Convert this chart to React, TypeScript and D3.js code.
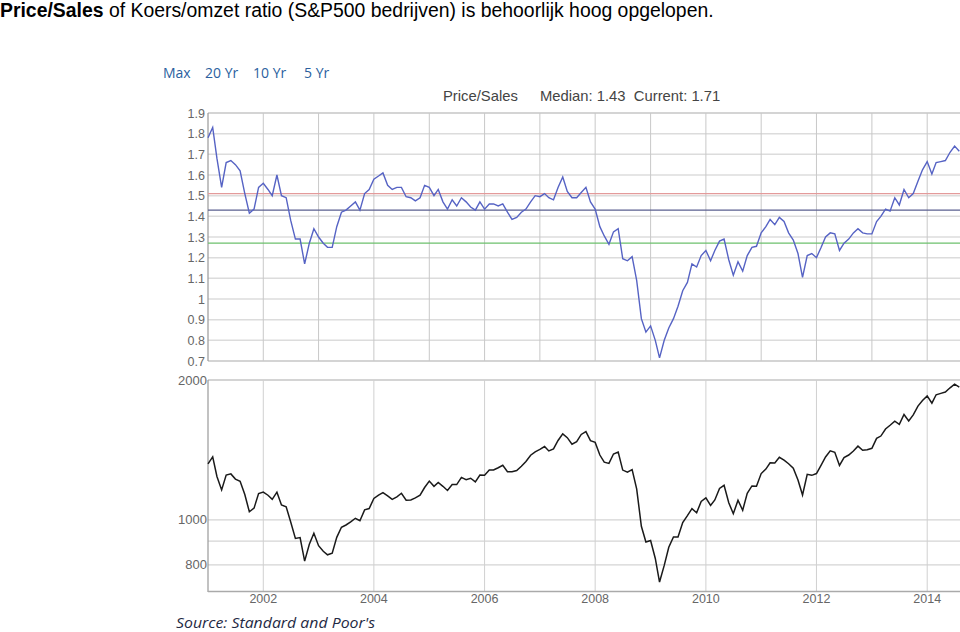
import React from "react";
import * as d3 from "d3";

// Month-end values, Dec 2000 .. Jul 2014
const startYear = 2000;
const startMonth = 11; // December (0-based)

const priceSales: number[] = [
  1.78,
  1.83, 1.68, 1.54, 1.66, 1.67, 1.65, 1.62, 1.51, 1.415, 1.435, 1.54, 1.56,
  1.53, 1.5, 1.6, 1.5, 1.49, 1.38, 1.29, 1.29, 1.17, 1.27, 1.34, 1.3,
  1.27, 1.25, 1.25, 1.35, 1.42, 1.43, 1.45, 1.47, 1.43, 1.51, 1.53, 1.58,
  1.595, 1.61, 1.55, 1.53, 1.54, 1.54, 1.495, 1.49, 1.475, 1.49, 1.55, 1.54,
  1.5, 1.53, 1.47, 1.435, 1.48, 1.45, 1.49, 1.47, 1.445, 1.43, 1.47, 1.435,
  1.46, 1.46, 1.45, 1.46, 1.42, 1.385, 1.395, 1.42, 1.435, 1.47, 1.5, 1.495,
  1.51, 1.49, 1.48, 1.54, 1.59, 1.52, 1.49, 1.49, 1.515, 1.54, 1.47, 1.435,
  1.35, 1.305, 1.265, 1.325, 1.34, 1.195, 1.185, 1.205, 1.09, 0.905, 0.84, 0.87,
  0.8, 0.715, 0.8, 0.86, 0.905, 0.965, 1.04, 1.08, 1.17, 1.155, 1.21, 1.235,
  1.185, 1.235, 1.28, 1.29, 1.19, 1.115, 1.18, 1.135, 1.21, 1.25, 1.255, 1.32,
  1.35, 1.385, 1.36, 1.395, 1.375, 1.32, 1.285, 1.22, 1.105, 1.21, 1.22, 1.2,
  1.25, 1.3, 1.32, 1.315, 1.235, 1.27, 1.29, 1.32, 1.34, 1.32, 1.315, 1.315,
  1.375, 1.4, 1.435, 1.425, 1.49, 1.455, 1.53, 1.49, 1.51, 1.57, 1.625, 1.665,
  1.605, 1.66, 1.665, 1.67, 1.71, 1.74, 1.715,
];

const spx: number[] = [
  1320,
  1366, 1240, 1160, 1249, 1256, 1224, 1211, 1134, 1041, 1060, 1139, 1148,
  1130, 1107, 1147, 1077, 1067, 990, 912, 916, 815, 886, 936, 880,
  856, 841, 848, 917, 964, 975, 990, 1008, 996, 1051, 1058, 1112,
  1131, 1145, 1126, 1107, 1121, 1141, 1102, 1104, 1115, 1130, 1174, 1212,
  1181, 1204, 1181, 1157, 1192, 1191, 1234, 1220, 1229, 1207, 1249, 1248,
  1280, 1281, 1295, 1311, 1270, 1270, 1277, 1304, 1336, 1378, 1401, 1418,
  1438, 1407, 1421, 1482, 1531, 1503, 1455, 1474, 1527, 1549, 1481, 1468,
  1379, 1331, 1323, 1386, 1400, 1280, 1267, 1283, 1166, 969, 896, 903,
  826, 735, 798, 873, 919, 919, 987, 1021, 1057, 1036, 1096, 1115,
  1074, 1104, 1169, 1187, 1089, 1031, 1102, 1049, 1141, 1183, 1181, 1258,
  1286, 1327, 1326, 1364, 1345, 1321, 1292, 1219, 1131, 1253, 1247, 1258,
  1312, 1366, 1408, 1398, 1310, 1362, 1379, 1407, 1441, 1412, 1416, 1426,
  1498, 1515, 1569, 1598, 1631, 1606, 1686, 1633, 1682, 1757, 1806, 1848,
  1783, 1859, 1872, 1884, 1924, 1960, 1931,
];

const psTicks = [0.7, 0.8, 0.9, 1.0, 1.1, 1.2, 1.3, 1.4, 1.5, 1.6, 1.7, 1.8, 1.9];
const spxGrid = [800, 900, 1000, 2000];
const spxLabels = [800, 1000, 2000];
const yearTicks = [2002, 2004, 2006, 2008, 2010, 2012, 2014];
const yearGrid = [2002, 2003, 2004, 2005, 2006, 2007, 2008, 2009, 2010, 2011, 2012, 2013, 2014];
const refLines = [
  { value: 1.51, color: "#e39a9a" },
  { value: 1.43, color: "#5a5f8f" },
  { value: 1.27, color: "#6cc06c" },
];
const rangeButtons = ["Max", "20 Yr", "10 Yr", "5 Yr"];
const median = 1.43;
const current = 1.71;

// month-end date for index i (plotted at the first day of following month)
const dateAt = (i: number) => new Date(startYear, startMonth + i + 1, 1);

export default function App() {
  const left = 208;
  const right = 959.3;
  const x = d3
    .scaleTime()
    .domain([new Date(2001, 0, 1), new Date(2014, 7, 1)])
    .range([left, right]);

  const yTop = d3.scaleLinear().domain([0.7, 1.9]).range([361, 113]);
  const yBot = d3.scaleLog().domain([703, 2000]).range([591, 380]);

  const psLine = d3
    .line<number>()
    .x((_, i) => x(dateAt(i)))
    .y((d) => yTop(d));
  const spxLine = d3
    .line<number>()
    .x((_, i) => x(dateAt(i)))
    .y((d) => yBot(d));

  const fmt = (v: number) => String(+v.toFixed(1));
  const btnX = [163, 205, 253, 304];
  const plotRight = 960;

  return (
    <svg
      width={960}
      height={632}
      style={{ position: "absolute", left: 0, top: 0, background: "#fff" }}
      fontFamily="'Liberation Sans', Arial, sans-serif"
    >
      <rect x={0} y={0} width={960} height={632} fill="#fff" />
      <text x={0} y={16.5} fontSize={19.4} fill="#000">
        <tspan fontWeight="bold">Price/Sales</tspan>
        <tspan> of Koers/omzet ratio (S&amp;P500 bedrijven) is behoorlijk hoog opgelopen.</tspan>
      </text>

      {rangeButtons.map((b, i) => (
        <text
          key={b}
          x={btnX[i]}
          y={78}
          fontSize={14}
          fill="#2b5f9e"
          fontFamily="'Open Sans', sans-serif"
        >
          {b}
        </text>
      ))}

      <text x={443} y={101} fontSize={14.8} fill="#444">
        Price/Sales
      </text>
      <text x={540} y={101} fontSize={14.8} fill="#444">
        Median: {median.toFixed(2)}{"\u00a0\u00a0"}Current: {current.toFixed(2)}
      </text>

      {/* top chart grid */}
      {psTicks.map((t) => (
        <line
          key={"h" + t}
          x1={left}
          x2={plotRight}
          y1={yTop(t)}
          y2={yTop(t)}
          stroke={t === 1.9 || t === 0.7 ? "#aaa" : "#dcdcdc"}
          strokeWidth={t === 0.7 || t === 1.9 ? 1.2 : 1.5}
        />
      ))}
      {yearGrid.map((yr) => (
        <line
          key={"vt" + yr}
          x1={x(new Date(yr, 0, 1))}
          x2={x(new Date(yr, 0, 1))}
          y1={113}
          y2={361}
          stroke="#c8c8c8"
          strokeWidth={1}
        />
      ))}
      <line x1={left} x2={left} y1={113} y2={361} stroke="#999" strokeWidth={1.2} />
      {psTicks.map((t) => (
        <text
          key={"lt" + t}
          x={205}
          y={yTop(t) + 4.5}
          fontSize={12.5}
          fill="#666"
          textAnchor="end"
        >
          {fmt(t)}
        </text>
      ))}
      {refLines.map((r) => (
        <line
          key={"r" + r.value}
          x1={left}
          x2={plotRight}
          y1={yTop(r.value)}
          y2={yTop(r.value)}
          stroke={r.color}
          strokeWidth={1.2}
        />
      ))}
      <path d={psLine(priceSales) || ""} fill="none" stroke="#5663c4" strokeWidth={1.4} />

      {/* bottom chart */}
      {spxGrid.map((t) => (
        <line
          key={"bh" + t}
          x1={left}
          x2={plotRight}
          y1={yBot(t)}
          y2={yBot(t)}
          stroke={t === 2000 ? "#aaa" : "#d4d4d4"}
          strokeWidth={1.2}
        />
      ))}
      {yearTicks.map((yr) => (
        <line
          key={"bv" + yr}
          x1={x(new Date(yr, 0, 1))}
          x2={x(new Date(yr, 0, 1))}
          y1={380}
          y2={591}
          stroke="#d0d0d0"
          strokeWidth={1}
        />
      ))}
      <line x1={left} x2={left} y1={380} y2={592} stroke="#999" strokeWidth={1.2} />
      <line x1={left} x2={plotRight} y1={591.5} y2={591.5} stroke="#aaa" strokeWidth={1.5} />
      {spxLabels.map((t) => (
        <text
          key={"bl" + t}
          x={207}
          y={yBot(t) + 4.5}
          fontSize={13}
          fill="#666"
          textAnchor="end"
        >
          {t}
        </text>
      ))}
      <path d={spxLine(spx) || ""} fill="none" stroke="#1a1a1a" strokeWidth={1.5} />
      {yearTicks.map((yr) => (
        <text
          key={"xl" + yr}
          x={x(new Date(yr, 0, 1))}
          y={603}
          fontSize={12.5}
          fill="#666"
          textAnchor="middle"
        >
          {yr}
        </text>
      ))}

      <text
        x={176}
        y={628}
        fontSize={14.5}
        fontStyle="italic"
        fill="#1f2a44"
        fontFamily="'Open Sans', sans-serif"
        textLength={199}
        lengthAdjust="spacingAndGlyphs"
      >
        Source: Standard and Poor's
      </text>
    </svg>
  );
}
